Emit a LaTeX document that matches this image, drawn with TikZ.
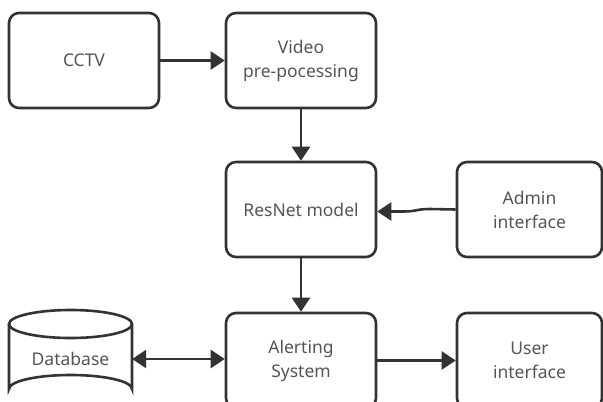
\documentclass[tikz,border=0pt]{standalone}
\usepackage{fontspec}
\setmainfont{Noto Sans}
\usetikzlibrary{arrows.meta}
\definecolor{txt}{HTML}{555555}
\definecolor{ln}{HTML}{333333}
\begin{document}
\begin{tikzpicture}[x=1pt,y=-1pt,
  box/.style={draw=ln, line width=2.6pt, rounded corners=10pt, minimum width=150pt, minimum height=95pt, inner sep=0pt, align=center, text=txt, font=\fontsize{17.5}{24}\selectfont},
  conn/.style={draw=ln, line width=2.6pt, -{Triangle[length=14pt,width=18pt]}},
  lbl/.style={text=txt, font=\fontsize{17.5}{24}\selectfont, inner sep=0pt}]
\useasboundingbox (0,0) rectangle (603,402);
\node[box] (cctv) at (84,60.5) {CCTV};
\node[box] (vid) at (301,60.5) {Video\\pre-pocessing};
\node[box] (res) at (301,209.5) {ResNet model};
\node[box, minimum width=145pt] (adm) at (529.5,209.5) {Admin\\interface};
\node[box] (alr) at (301,360.5) {Alerting\\System};
\node[box, minimum width=145pt] (usr) at (529.5,360.5) {User\\interface};
% database cylinder
\draw[ln, line width=2.6pt, fill=white] (9,324) -- (9,389) arc[start angle=180, end angle=360, x radius=61.5, y radius=14] -- (132,324);
\draw[ln, line width=2.6pt] (70.5,324) ellipse[x radius=61.5, y radius=14];
\node[lbl, minimum width=123pt] (db) at (70.5,359) {Database};
% connectors
\draw[conn] (cctv.east) -- (vid.west);
\draw[conn] (vid.south) -- (res.north);
\draw[conn] (res.south) -- (alr.north);
\draw[conn] (alr.east) -- (usr.west);
\draw[conn, {Triangle[length=14pt,width=18pt]}-{Triangle[length=14pt,width=18pt]}] (db.east) -- (alr.west |- db.east);
\coordinate (k1) at (430,209);
\coordinate (k2) at (403,211.5);
\draw[conn] (adm.west) -- (k1) .. controls (416,209) and (417,211.5) .. (k2) -- (res.east |- k2);
\end{tikzpicture}
\end{document}
